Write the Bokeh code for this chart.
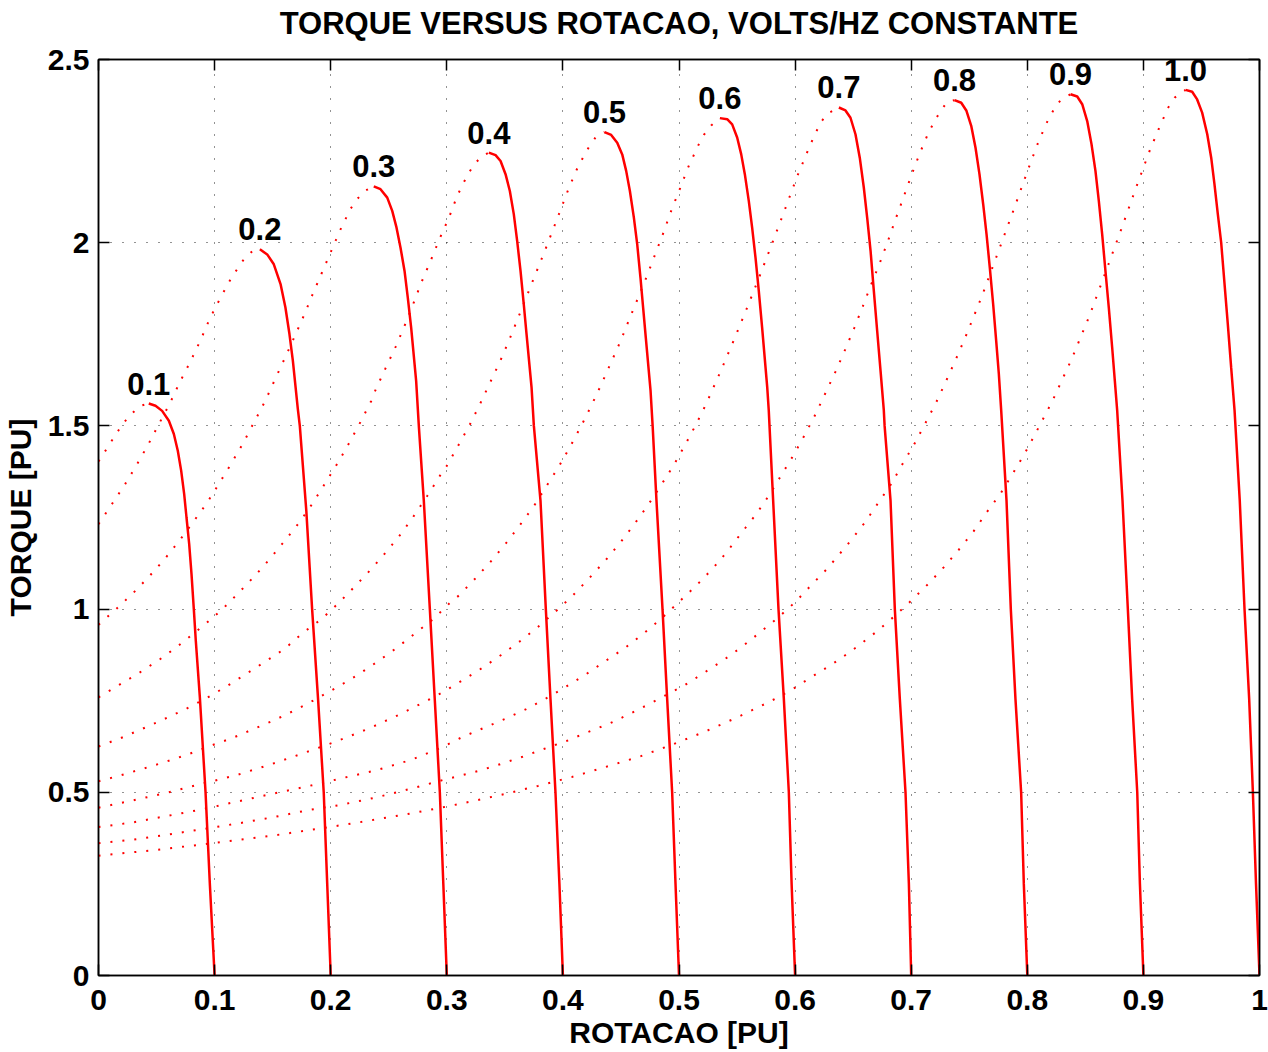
from bokeh.plotting import figure
from bokeh.models import LinearAxis, FixedTicker, Range1d
from bokeh.embed import file_html
from bokeh.resources import INLINE
from bokeh.core.properties import value

# ---------------- data ----------------
title_text = "TORQUE VERSUS ROTACAO, VOLTS/HZ CONSTANTE"
freq_labels = ["0.1", "0.2", "0.3", "0.4", "0.5", "0.6", "0.7", "0.8", "0.9", "1.0"]

x_ticks = [0, 0.1, 0.2, 0.3, 0.4, 0.5, 0.6, 0.7, 0.8, 0.9, 1]
x_tick_labels = ["0", "0.1", "0.2", "0.3", "0.4", "0.5", "0.6", "0.7", "0.8", "0.9", "1"]
y_ticks = [0, 0.5, 1, 1.5, 2, 2.5]
y_tick_labels = ["0", "0.5", "1", "1.5", "2", "2.5"]

# f = 0.1
rot_dot_01 = [0, 0.0055, 0.0109, 0.0164, 0.0218, 0.0287, 0.0364, 0.0433]
tq_dot_01 = [1.403, 1.430, 1.457, 1.484, 1.509, 1.534, 1.555, 1.561]
rot_sol_01 = [0.0433, 0.0491, 0.0548, 0.0606, 0.0649, 0.0683, 0.0712, 0.0738, 0.0758, 0.0781,
              0.0801, 0.0821, 0.0838, 0.0873, 0.0922, 0.0959, 0.1]
tq_sol_01 = [1.561, 1.555, 1.541, 1.514, 1.478, 1.432, 1.378, 1.314, 1.250, 1.178,
             1.096, 1.000, 0.914, 0.759, 0.5, 0.25, 0]

# f = 0.2
rot_dot_02 = [0, 0.0112, 0.0224, 0.033, 0.0428, 0.052, 0.0614, 0.0698, 0.0792, 0.0879, 0.0959,
              0.1051, 0.1148, 0.126, 0.1335, 0.139]
tq_dot_02 = [1.232, 1.285, 1.3385, 1.394, 1.449, 1.505, 1.561, 1.618, 1.676, 1.734, 1.793,
             1.850, 1.906, 1.9585, 1.9795, 1.982]
rot_sol_02 = [0.139, 0.1453, 0.151, 0.1568, 0.161, 0.1645, 0.1674, 0.1717, 0.1734, 0.179, 0.184,
              0.1892, 0.194, 0.197, 0.2]
tq_sol_02 = [1.982, 1.968, 1.941, 1.887, 1.823, 1.750, 1.678, 1.546, 1.5, 1.268, 1.0,
             0.750, 0.5, 0.25, 0]

# f = 0.3
rot_dot_03 = [0, 0.0155, 0.0296, 0.0436, 0.0568, 0.0695, 0.0815, 0.0933, 0.1039, 0.1146, 0.1246,
              0.1338, 0.1433, 0.1519, 0.1605, 0.1685, 0.1766, 0.1843, 0.1924, 0.2004, 0.2081,
              0.217, 0.2228, 0.2291, 0.2371]
tq_dot_03 = [0.957, 1.001, 1.043, 1.089, 1.136, 1.186, 1.2375, 1.289, 1.343, 1.3985, 1.453,
             1.509, 1.566, 1.626, 1.685, 1.741, 1.799, 1.858, 1.918, 1.977, 2.034,
             2.092, 2.119, 2.141, 2.154]
rot_sol_03 = [0.2371, 0.2429, 0.2487, 0.253, 0.2567, 0.2601, 0.2636, 0.2664, 0.2693, 0.2736,
              0.2759, 0.2802, 0.2854, 0.2897, 0.294, 0.297, 0.3]
tq_sol_03 = [2.154, 2.146, 2.123, 2.087, 2.041, 1.987, 1.923, 1.850, 1.768, 1.623,
             1.5, 1.296, 1.0, 0.75, 0.5, 0.25, 0]

# f = 0.4
rot_dot_04 = [0, 0.0178, 0.035, 0.052, 0.068, 0.0919, 0.1068, 0.1209, 0.1347, 0.1481, 0.1608,
              0.1734, 0.1849, 0.1955, 0.2061, 0.2162, 0.2257, 0.2349, 0.2386, 0.2472, 0.2558,
              0.2636, 0.271, 0.2779, 0.286, 0.2934, 0.3018, 0.309, 0.3178, 0.3233, 0.3296, 0.3362]
tq_dot_04 = [0.759, 0.793, 0.826, 0.861, 0.898, 0.959, 1.000, 1.045, 1.091, 1.139, 1.188,
             1.238, 1.291, 1.345, 1.399, 1.455, 1.511, 1.568, 1.598, 1.657, 1.715,
             1.773, 1.832, 1.890, 1.950, 2.008, 2.068, 2.128, 2.185, 2.212, 2.235, 2.246]
rot_sol_04 = [0.3362, 0.342, 0.3463, 0.3506, 0.3543, 0.3577, 0.3606, 0.3635, 0.3663, 0.3687,
              0.373, 0.375, 0.3807, 0.3853, 0.3893, 0.3936, 0.397, 0.4]
tq_sol_04 = [2.246, 2.239, 2.223, 2.187, 2.141, 2.078, 2.005, 1.923, 1.832, 1.750,
             1.605, 1.5, 1.296, 1.0, 0.755, 0.5, 0.25, 0]

# f = 0.5
rot_dot_05 = [0, 0.0192, 0.0376, 0.056, 0.0743, 0.0924, 0.1097, 0.1272, 0.1438, 0.1605, 0.1763,
              0.1918, 0.207, 0.2211, 0.2349, 0.2481, 0.2607, 0.2722, 0.2834, 0.2943, 0.30,
              0.3098, 0.3196, 0.3285, 0.3371, 0.3457, 0.3537, 0.3612, 0.3686, 0.3761, 0.3836,
              0.3908, 0.3979, 0.4051, 0.4132, 0.4229, 0.4287, 0.4358]
tq_dot_05 = [0.625, 0.648, 0.673, 0.699, 0.726, 0.756, 0.788, 0.823, 0.857, 0.892, 0.936,
             0.972, 1.017, 1.063, 1.109, 1.157, 1.206, 1.257, 1.310, 1.365, 1.391,
             1.446, 1.502, 1.559, 1.617, 1.675, 1.734, 1.793, 1.852, 1.912, 1.971,
             2.030, 2.089, 2.149, 2.209, 2.264, 2.290, 2.302]
rot_sol_05 = [0.4358, 0.4416, 0.4468, 0.4511, 0.4545, 0.4577, 0.4611, 0.464, 0.4668, 0.4691,
              0.4714, 0.4755, 0.4773, 0.4806, 0.4858, 0.4898, 0.4941, 0.497, 0.5]
tq_sol_05 = [2.302, 2.294, 2.273, 2.241, 2.196, 2.141, 2.069, 1.996, 1.905, 1.823,
             1.741, 1.596, 1.5, 1.296, 1.0, 0.755, 0.5, 0.25, 0]

# f = 0.6
rot_dot_06 = [0, 0.0198, 0.039, 0.0586, 0.0775, 0.0965, 0.1152, 0.1338, 0.1522, 0.1705, 0.1889,
              0.2061, 0.2231, 0.240, 0.2567, 0.2728, 0.2888, 0.3026, 0.3104, 0.3241, 0.3379,
              0.3508, 0.3629, 0.375, 0.3859, 0.3965, 0.4063, 0.4158, 0.4249, 0.4335, 0.4416,
              0.4499, 0.4574, 0.4651, 0.4726, 0.4798, 0.4869, 0.4935, 0.501, 0.5082, 0.5168,
              0.5214, 0.5277, 0.5352]
tq_dot_06 = [0.530, 0.547, 0.565, 0.584, 0.604, 0.627, 0.648, 0.673, 0.698, 0.726, 0.757,
             0.788, 0.820, 0.856, 0.894, 0.934, 0.974, 1.017, 1.037, 1.082, 1.130,
             1.179, 1.229, 1.281, 1.336, 1.389, 1.444, 1.500, 1.558, 1.616, 1.674,
             1.733, 1.793, 1.852, 1.911, 1.971, 2.030, 2.089, 2.149, 2.208, 2.267,
             2.294, 2.320, 2.340]
rot_sol_06 = [0.5352, 0.5415, 0.5458, 0.5501, 0.5536, 0.5567, 0.5601, 0.563, 0.5659, 0.5687,
              0.5716, 0.576, 0.5773, 0.5811, 0.5857, 0.5903, 0.5946, 0.597, 0.6]
tq_sol_06 = [2.340, 2.337, 2.323, 2.287, 2.241, 2.187, 2.114, 2.041, 1.959, 1.869,
             1.768, 1.605, 1.543, 1.296, 1.0, 0.755, 0.5, 0.25, 0]

# f = 0.7
rot_dot_07 = [0, 0.0298, 0.0594, 0.0887, 0.118, 0.1473, 0.1757, 0.2041, 0.232, 0.2598, 0.2871,
              0.2954, 0.3127, 0.3299, 0.3465, 0.3629, 0.3787, 0.3939, 0.4085, 0.4226, 0.4361,
              0.4488, 0.4611, 0.4729, 0.4841, 0.4947, 0.5045, 0.5142, 0.5231, 0.5357, 0.5475,
              0.559, 0.5702, 0.5808, 0.5915, 0.6018, 0.6133, 0.6219, 0.6282, 0.6377]
tq_dot_07 = [0.458, 0.478, 0.499, 0.523, 0.546, 0.575, 0.606, 0.638, 0.673, 0.713, 0.757,
             0.771, 0.804, 0.838, 0.874, 0.912, 0.952, 0.994, 1.037, 1.084, 1.131,
             1.179, 1.230, 1.282, 1.336, 1.389, 1.444, 1.501, 1.558, 1.648, 1.736,
             1.825, 1.915, 2.003, 2.093, 2.181, 2.269, 2.328, 2.353, 2.369]
rot_sol_07 = [0.6377, 0.6434, 0.6477, 0.652, 0.6557, 0.6592, 0.6621, 0.665, 0.6678, 0.6707,
              0.6736, 0.6764, 0.6771, 0.6822, 0.6859, 0.6902, 0.6951, 0.698, 0.7]
tq_sol_07 = [2.369, 2.361, 2.341, 2.296, 2.232, 2.150, 2.068, 1.978, 1.869, 1.759,
             1.650, 1.543, 1.5, 1.296, 1.0, 0.755, 0.5, 0.25, 0]

# f = 0.8
rot_dot_08 = [0, 0.0301, 0.06, 0.0901, 0.1197, 0.1499, 0.1783, 0.209, 0.2392, 0.2687, 0.294,
              0.3129, 0.3313, 0.350, 0.3684, 0.3859, 0.4031, 0.4203, 0.437, 0.4539, 0.4697,
              0.4847, 0.5001, 0.5145, 0.5286, 0.5415, 0.5538, 0.5662, 0.5777, 0.588, 0.5984,
              0.6084, 0.6176, 0.6348, 0.6431, 0.6509, 0.6583, 0.6655, 0.673, 0.6799, 0.6865,
              0.6934, 0.7003, 0.7074, 0.7152, 0.725, 0.7313, 0.7373]
tq_dot_08 = [0.405, 0.418, 0.436, 0.454, 0.475, 0.496, 0.515, 0.538, 0.560, 0.588, 0.620,
             0.650, 0.675, 0.700, 0.727, 0.757, 0.789, 0.823, 0.859, 0.895, 0.934,
             0.974, 1.020, 1.063, 1.109, 1.157, 1.208, 1.258, 1.311, 1.365, 1.419,
             1.476, 1.532, 1.648, 1.708, 1.767, 1.826, 1.886, 1.945, 2.004, 2.064,
             2.124, 2.185, 2.244, 2.303, 2.359, 2.385, 2.389]
rot_sol_08 = [0.7373, 0.7431, 0.7476, 0.7517, 0.7554, 0.7588, 0.762, 0.7649, 0.7677, 0.7706,
              0.7732, 0.7755, 0.7775, 0.7821, 0.7858, 0.7898, 0.7947, 0.797, 0.8]
tq_sol_08 = [2.389, 2.382, 2.360, 2.319, 2.259, 2.187, 2.105, 2.023, 1.932, 1.832,
             1.732, 1.641, 1.543, 1.296, 1.0, 0.755, 0.5, 0.25, 0]

# f = 0.9
rot_dot_09 = [0, 0.0304, 0.0606, 0.0907, 0.1203, 0.1505, 0.1803, 0.2093, 0.2392, 0.2696, 0.2995,
              0.3075, 0.327, 0.3463, 0.3652, 0.3842, 0.4031, 0.422, 0.4404, 0.4588, 0.4769,
              0.4944, 0.5033, 0.5205, 0.5375, 0.5538, 0.5696, 0.5851, 0.6001, 0.6138, 0.6279,
              0.6345, 0.6474, 0.6598, 0.6712, 0.6825, 0.6925, 0.7028, 0.7123, 0.7215, 0.7301,
              0.7385, 0.7465, 0.7539, 0.7614, 0.7683, 0.7752, 0.7821, 0.7892, 0.7959, 0.8028,
              0.8099, 0.818, 0.8228, 0.8286, 0.8372]
tq_dot_09 = [0.361, 0.371, 0.385, 0.400, 0.415, 0.432, 0.451, 0.466, 0.486, 0.510, 0.536,
             0.542, 0.558, 0.577, 0.597, 0.619, 0.640, 0.665, 0.688, 0.716, 0.745,
             0.775, 0.789, 0.824, 0.859, 0.896, 0.936, 0.976, 1.019, 1.065, 1.111,
             1.136, 1.185, 1.235, 1.288, 1.340, 1.396, 1.451, 1.508, 1.564, 1.623,
             1.682, 1.741, 1.799, 1.858, 1.918, 1.977, 2.037, 2.098, 2.158, 2.218,
             2.278, 2.336, 2.363, 2.389, 2.405]
rot_sol_09 = [0.8372, 0.843, 0.8473, 0.8516, 0.8553, 0.8587, 0.8616, 0.8645, 0.8673, 0.8702,
              0.8731, 0.8754, 0.8774, 0.882, 0.8866, 0.8903, 0.8947, 0.897, 0.9]
tq_sol_09 = [2.405, 2.399, 2.378, 2.332, 2.269, 2.196, 2.114, 2.023, 1.923, 1.823,
             1.714, 1.623, 1.543, 1.296, 1.0, 0.755, 0.5, 0.25, 0]

# f = 1.0
rot_dot_10 = [0, 0.0506, 0.1008, 0.1505, 0.1906, 0.2302, 0.2702, 0.2997, 0.3196, 0.349, 0.3784,
              0.408, 0.4367, 0.4657, 0.494, 0.522, 0.5498, 0.577, 0.595, 0.6118, 0.629,
              0.6374, 0.6537, 0.6698, 0.685, 0.6997, 0.7143, 0.728, 0.741, 0.7537, 0.765,
              0.777, 0.7875, 0.798, 0.8073, 0.8168, 0.8214, 0.8383, 0.8536, 0.8676, 0.8814,
              0.8949, 0.9055, 0.913, 0.9213, 0.927, 0.9363]
tq_dot_10 = [0.327, 0.343, 0.362, 0.382, 0.401, 0.421, 0.443, 0.461, 0.474, 0.4946, 0.5174,
             0.542, 0.569, 0.597, 0.630, 0.665, 0.704, 0.7456, 0.7756, 0.810, 0.844,
             0.861, 0.898, 0.9375, 0.979, 1.022, 1.0675, 1.114, 1.162, 1.212, 1.264,
             1.3157, 1.370, 1.426, 1.481, 1.5385, 1.5666, 1.683, 1.801, 1.921, 2.041,
             2.161, 2.252, 2.309, 2.3685, 2.396, 2.417]
rot_sol_10 = [0.9363, 0.942, 0.9463, 0.9506, 0.955, 0.9584, 0.9612, 0.9641, 0.967, 0.9699,
              0.9727, 0.9756, 0.9785, 0.983, 0.9871, 0.9911, 0.9943, 0.997, 1.0]
tq_sol_10 = [2.417, 2.412, 2.391, 2.355, 2.296, 2.232, 2.160, 2.078, 2.0, 1.887,
             1.778, 1.659, 1.543, 1.296, 1.0, 0.755, 0.5, 0.25, 0]

dotted_curves = [(rot_dot_01, tq_dot_01), (rot_dot_02, tq_dot_02), (rot_dot_03, tq_dot_03),
                 (rot_dot_04, tq_dot_04), (rot_dot_05, tq_dot_05), (rot_dot_06, tq_dot_06),
                 (rot_dot_07, tq_dot_07), (rot_dot_08, tq_dot_08), (rot_dot_09, tq_dot_09),
                 (rot_dot_10, tq_dot_10)]
solid_curves = [(rot_sol_01, tq_sol_01), (rot_sol_02, tq_sol_02), (rot_sol_03, tq_sol_03),
                (rot_sol_04, tq_sol_04), (rot_sol_05, tq_sol_05), (rot_sol_06, tq_sol_06),
                (rot_sol_07, tq_sol_07), (rot_sol_08, tq_sol_08), (rot_sol_09, tq_sol_09),
                (rot_sol_10, tq_sol_10)]

# ---------------- figure ----------------
FONT = "Liberation Sans"
RED = "#ff0000"

p = figure(width=1268, height=1052, x_range=Range1d(0, 1), y_range=Range1d(0, 2.5),
           title=None, output_backend="svg", toolbar_location=None,
           min_border_left=98, min_border_right=9, min_border_top=59, min_border_bottom=77,
           background_fill_color="white", border_fill_color="white")

p.outline_line_color = "black"
p.outline_line_width = 1.5

xt = FixedTicker(ticks=x_ticks)
yt = FixedTicker(ticks=y_ticks)
p.xaxis.ticker = xt
p.yaxis.ticker = yt
p.xgrid.ticker = xt
p.ygrid.ticker = yt
p.xaxis.major_label_overrides = dict(zip(x_ticks, x_tick_labels))
p.yaxis.major_label_overrides = dict(zip(y_ticks, y_tick_labels))
p.xaxis.axis_label = "ROTACAO [PU]"
p.yaxis.axis_label = "TORQUE [PU]"

for ax in (p.xaxis[0], p.yaxis[0]):
    ax.major_tick_in = 11
    ax.major_tick_out = 0
    ax.minor_tick_line_color = None
    ax.axis_line_width = 1.5
    ax.axis_line_color = "black"
    ax.major_tick_line_color = "black"
    ax.major_tick_line_width = 1.5
    ax.major_label_text_font = FONT
    ax.major_label_text_font_size = "30px"
    ax.major_label_text_font_style = "bold"
    ax.major_label_text_color = "black"
    ax.axis_label_text_font = FONT
    ax.axis_label_text_font_size = "30px"
    ax.axis_label_text_font_style = "bold"
    ax.axis_label_text_color = "black"

p.xaxis.major_label_standoff = 14
p.xaxis.axis_label_standoff = 3
p.yaxis.major_label_standoff = 9
p.yaxis.axis_label_standoff = 8

# mirrored ticks on top (carrying the chart title as its label) and right (no labels)
top_ax = LinearAxis(ticker=FixedTicker(ticks=x_ticks), major_tick_in=11, major_tick_out=0,
                    minor_tick_line_color=None, major_label_text_color=None,
                    major_label_text_font_size="0px",
                    major_label_standoff=0, axis_line_width=1.5, major_tick_line_width=1.5,
                    axis_label=title_text, axis_label_standoff=19,
                    axis_label_text_font=FONT, axis_label_text_font_size="31px",
                    axis_label_text_font_style="bold", axis_label_text_color="black")
right_ax = LinearAxis(ticker=FixedTicker(ticks=y_ticks), major_tick_in=11, major_tick_out=0,
                      minor_tick_line_color=None, major_label_text_color=None,
                      major_label_text_font_size="0px",
                      major_label_standoff=0, axis_line_width=1.5, major_tick_line_width=1.5)
p.add_layout(top_ax, "above")
p.add_layout(right_ax, "right")

p.grid.grid_line_color = "black"
p.grid.grid_line_dash = "1 11"
p.grid.grid_line_width = 1
p.grid.grid_line_alpha = 0.85

for xs, ys in dotted_curves:
    p.line(xs, ys, line_color=RED, line_width=2, line_dash="2 10")
for xs, ys in solid_curves:
    p.line(xs, ys, line_color=RED, line_width=2.5)

peak_x = [c[0][0] for c in solid_curves]
peak_y = [c[1][0] for c in solid_curves]
p.text(x=peak_x, y=peak_y, text=freq_labels, text_font=value(FONT), text_font_size="31px",
       text_font_style="bold", text_color="black", text_align="center",
       text_baseline="alphabetic", y_offset=-20)

open("out.html", "w").write(file_html(p, INLINE))
